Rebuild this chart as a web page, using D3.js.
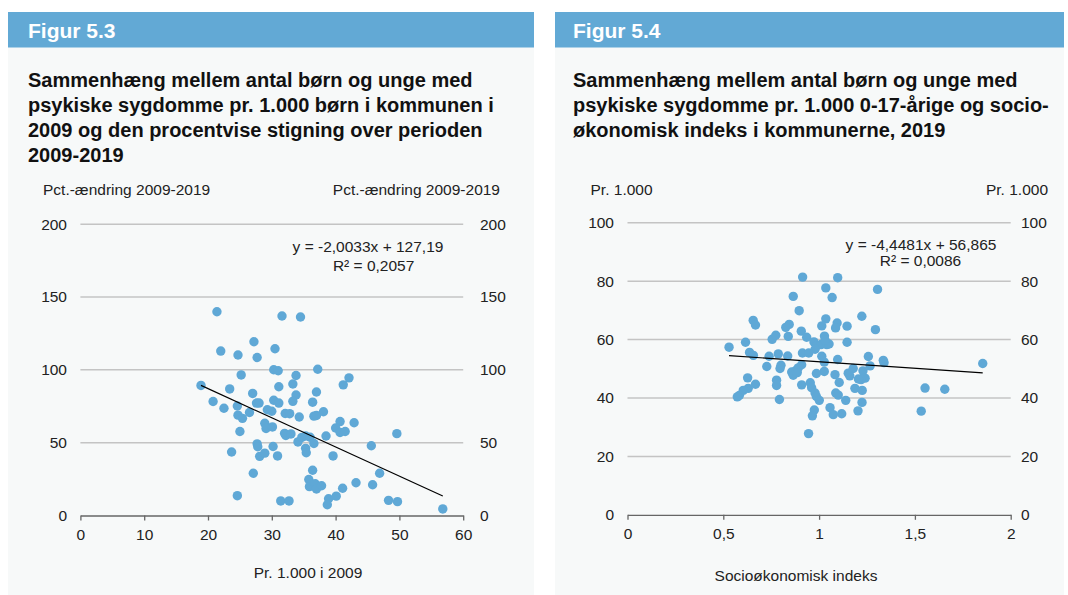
<!DOCTYPE html>
<html><head><meta charset="utf-8">
<script src="https://cdn.jsdelivr.net/npm/d3@7"></script>
<style>
body{margin:0;background:#fff}
svg text{font-family:"Liberation Sans",Arial,Helvetica,sans-serif}
</style>
</head><body>
<script>
// ---------- DATA ----------
// Figur 5.3: x = pr. 1.000 i 2009, y = pct.-ændring 2009-2019
const fig3X = [21.4,31.6,34.5,27.2,30.5,22.0,24.7,27.7,25.2,30.3,31.0,33.8,37.2,42.1,41.2,18.9,23.4,33.3,31.1,27.0,
  33.8,37.0,20.8,22.5,24.6,27.6,28.0,30.3,31.1,33.3,36.4,29.3,30.0,26.5,24.7,25.4,32.1,32.8,34.3,36.6,
  37.0,38.1,28.9,29.1,30.1,25.0,32.0,32.2,33.0,34.1,34.7,35.3,36.0,36.6,38.5,40.7,40.0,40.7,41.5,42.9,
  49.6,45.6,27.7,27.8,30.2,23.7,28.1,28.9,30.9,35.3,35.4,39.6,36.4,27.1,35.8,35.9,36.8,37.0,37.8,41.1,
  43.2,45.8,46.9,24.6,31.4,32.7,38.9,38.7,40.1,48.3,49.7,56.8];
const fig3Y = [139.9,137.0,136.3,119.3,114.5,112.9,110.2,108.5,96.5,100.1,99.4,96.1,100.4,94.5,89.7,89.3,86.9,90.3,88.4,83.8,
  82.7,84.8,78.3,73.6,75.2,77.2,77.2,79.1,77.2,78.4,77.8,72.6,71.6,70.7,68.9,66.7,70.0,69.9,67.6,68.2,
  68.7,71.2,63.3,59.7,60.8,57.7,56.4,54.9,56.0,50.5,53.6,54.6,53.7,49.4,54.6,64.5,60.1,57.0,57.7,63.7,
  56.2,47.9,49.2,47.2,47.4,43.6,40.6,42.8,40.9,46.1,43.1,40.9,31.1,29.0,24.7,19.8,21.8,18.2,20.4,18.7,
  22.5,21.1,29.0,13.6,10.0,10.0,11.5,7.4,13.3,10.4,9.5,4.5];
const fig3Trend = [-2.0033, 127.19];           // slope, intercept
const fig3XTicks = [0,10,20,30,40,50,60];
const fig3YTicks = [0,50,100,150,200];

// Figur 5.4: x = socioøkonomisk indeks, y = pr. 1.000 0-17-årige
const fig4X = [0.530,0.616,0.656,0.668,0.637,0.657,0.739,0.727,0.755,0.774,0.787,0.627,0.668,0.630,0.604,0.584,0.573,0.778,0.778,0.793,
  0.796,0.801,0.914,1.097,1.035,1.068,1.305,0.865,0.896,1.035,1.223,0.844,0.826,1.014,1.094,1.086,1.146,1.294,0.907,0.839,
  0.935,1.028,0.973,0.987,1.010,1.040,1.052,1.031,1.146,0.979,0.836,0.913,0.946,1.014,1.097,1.257,1.335,1.339,0.909,0.891,
  0.879,0.869,0.857,0.865,0.886,1.027,1.027,0.986,1.083,1.152,1.178,1.160,1.229,1.240,1.219,1.266,1.105,1.205,0.909,0.954,
  0.961,0.979,0.986,1.001,1.187,1.225,1.087,1.100,1.139,1.224,1.057,1.074,1.118,0.975,0.965,1.203,0.945,1.854,1.553,1.656,1.533];
const fig4Y = [57.4,59.1,66.6,65.0,55.6,54.6,54.3,50.8,60.1,61.5,55.1,46.9,44.7,43.3,42.6,40.9,40.4,46.1,44.3,39.5,
  50.1,51.2,81.4,81.2,77.7,74.4,77.2,74.8,69.9,67.1,68.0,65.2,64.2,64.7,65.7,64.0,64.6,63.4,62.9,61.1,
  60.8,61.2,59.2,58.0,58.3,58.3,58.5,59.8,59.1,56.7,54.4,55.4,55.4,54.3,53.2,54.2,52.9,52.1,51.4,50.3,
  49.4,48.7,48.9,47.8,48.7,52.3,49.1,48.4,48.0,48.5,50.1,47.6,49.3,46.8,46.3,51.0,45.3,46.5,44.5,45.2,
  43.5,41.7,40.5,39.2,43.3,42.6,41.7,41.0,39.2,38.5,36.7,34.3,34.6,35.9,33.9,35.6,27.8,51.8,43.4,43.0,35.5];
const fig4Trend = [-4.4481, 56.865];
const fig4XTicks = [0,0.5,1,1.5,2];
const fig4YTicks = [0,20,40,60,80,100];

// Texts
const fig3Texts = {
  header: "Figur 5.3",
  title: ["Sammenhæng mellem antal børn og unge med","psykiske sygdomme pr. 1.000 børn i kommunen i","2009 og den procentvise stigning over perioden","2009-2019"],
  yLabel: "Pct.-ændring 2009-2019",
  xLabel: "Pr. 1.000 i 2009",
  eq: ["y = -2,0033x + 127,19","R² = 0,2057"]
};
const fig4Texts = {
  header: "Figur 5.4",
  title: ["Sammenhæng mellem antal børn og unge med","psykiske sygdomme pr. 1.000 0-17-årige og socio-","økonomisk indeks i kommunerne, 2019"],
  yLabel: "Pr. 1.000",
  xLabel: "Socioøkonomisk indeks",
  eq: ["y = -4,4481x + 56,865","R² = 0,0086"]
};

// ---------- DRAWING ----------
const W = 1068, H = 595;
const BLUE = "#62a9d5", BG = "#f7f9f9", DOT = "#5fa8d6";
const svg = d3.select("body").append("svg").attr("width", W).attr("height", H);
const fmt = d3.formatLocale({decimal: ",", thousands: ".", grouping: [3], currency: ["", ""]}).format("~g");

function panel(o) {
  const g = svg.append("g");
  g.append("rect").attr("x", o.px).attr("y", 12).attr("width", o.pw).attr("height", H - 12).attr("fill", BG);
  g.append("rect").attr("x", o.px).attr("y", 12).attr("width", o.pw).attr("height", 35.5).attr("fill", BLUE);
  g.append("text").attr("x", o.tx).attr("y", 38.3).attr("fill", "#fff")
    .attr("font-size", 21).attr("font-weight", "bold").text(o.t.header);
  o.t.title.forEach((l, i) => g.append("text").attr("x", o.tx).attr("y", 87 + i * 25)
    .attr("font-size", 20).attr("font-weight", "bold").attr("fill", "#111").text(l));

  const x = d3.scaleLinear().domain(o.xd).range(o.xr);
  const y = d3.scaleLinear().domain(o.yd).range(o.yr);

  // axis unit labels
  g.append("text").attr("x", o.ylx0).attr("y", 195).attr("font-size", 15.5).attr("fill", "#222").text(o.t.yLabel);
  g.append("text").attr("x", o.ylx1).attr("y", 195).attr("font-size", 15.5).attr("fill", "#222")
    .attr("text-anchor", "end").text(o.t.yLabel);

  // gridlines
  g.append("g").selectAll("line").data(o.yt.filter(d => d !== 0)).join("line")
    .attr("x1", o.xr[0]).attr("x2", o.xr[1]).attr("y1", d => y(d)).attr("y2", d => y(d))
    .attr("stroke", "#c4c4c4").attr("stroke-width", 1.5);

  // y tick labels, both sides
  const yl = d3.axisLeft(y).tickValues(o.yt).tickSize(0).tickPadding(0).tickFormat(fmt);
  const yr = d3.axisRight(y).tickValues(o.yt).tickSize(0).tickPadding(0).tickFormat(fmt);
  const ga = g.append("g").attr("transform", `translate(${o.ytl},0)`).call(yl);
  const gb = g.append("g").attr("transform", `translate(${o.ytr},0)`).call(yr);
  [ga, gb].forEach(s => {
    s.select(".domain").remove();
    s.selectAll("text").attr("font-size", 15.5).attr("fill", "#222").attr("font-family", null);
  });

  // x axis
  const gx = g.append("g").attr("transform", `translate(0,${o.yr[0]})`)
    .call(d3.axisBottom(x).tickValues(o.xt).tickSize(5).tickSizeOuter(0).tickPadding(8.5).tickFormat(fmt));
  gx.select(".domain").attr("stroke", "#666").attr("stroke-width", 1.3);
  gx.selectAll(".tick line").attr("stroke", "#666").attr("stroke-width", 1.3);
  gx.selectAll("text").attr("font-size", 15.5).attr("fill", "#222").attr("font-family", null);
  g.append("text").attr("x", o.xlx).attr("y", o.xly).attr("text-anchor", "middle")
    .attr("font-size", 15.5).attr("fill", "#222").text(o.t.xLabel);

  // dots
  const pts = d3.zip(o.xs, o.ys);
  g.append("g").selectAll("circle").data(pts).join("circle")
    .attr("cx", d => x(d[0])).attr("cy", d => y(d[1])).attr("r", 4.7).attr("fill", DOT);

  // trend line
  const [m, b] = o.trend;
  const ext = d3.extent(o.xs);
  g.append("line").attr("x1", x(ext[0])).attr("y1", y(m * ext[0] + b))
    .attr("x2", x(ext[1])).attr("y2", y(m * ext[1] + b)).attr("stroke", "#000").attr("stroke-width", 1.2);

  // equation
  g.append("text").attr("x", o.eq[0]).attr("y", o.eq[1]).attr("text-anchor", "middle")
    .attr("font-size", 15.5).attr("fill", "#222").text(o.t.eq[0]);
  g.append("text").attr("x", o.eq[2]).attr("y", o.eq[3]).attr("text-anchor", "middle")
    .attr("font-size", 15.5).attr("fill", "#222").text(o.t.eq[1]);
}

panel({px: 8, pw: 526, tx: 28, t: fig3Texts,
  xd: [0, 60], xr: [80.4, 463.2], yd: [0, 200], yr: [515.5, 224.2],
  xt: fig3XTicks, yt: fig3YTicks, xs: fig3X, ys: fig3Y, trend: fig3Trend,
  ylx0: 43, ylx1: 500, ytl: 67, ytr: 480, xlx: 308, xly: 578, eq: [368, 252, 373.6, 270.5]});

panel({px: 555, pw: 509, tx: 573, t: fig4Texts,
  xd: [0, 2], xr: [627.5, 1010.7], yd: [0, 100], yr: [514.8, 222.8],
  xt: fig4XTicks, yt: fig4YTicks, xs: fig4X, ys: fig4Y, trend: fig4Trend,
  ylx0: 590.5, ylx1: 1048, ytl: 614, ytr: 1021, xlx: 796, xly: 581, eq: [921, 249.5, 920.5, 266]});
</script>
</body></html>
